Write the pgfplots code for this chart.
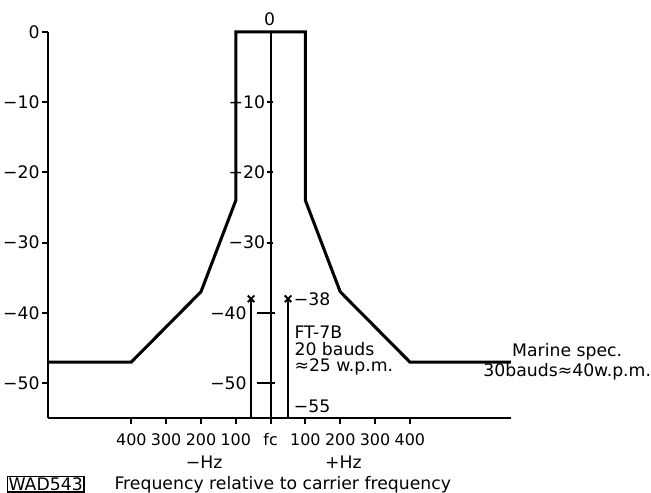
\documentclass[border=0pt]{standalone}
\usepackage{pgfplots}
\pgfplotsset{compat=1.18}
\usepackage{fontspec}
\setmainfont{DejaVu Sans}
\begin{document}
\fontsize{13}{15}\selectfont
\begin{tikzpicture}
\begin{axis}[
  scale only axis,
  width=348.75pt, height=291pt,
  xmin=-640, xmax=690, ymin=-55, ymax=0,
  axis x line=bottom, axis y line=left,
  axis line style={-, line width=1.5pt},
  clip=false,
  tick align=outside,
  major tick length=4.5pt,
  tick style={line width=1.4pt, black},
  xtick={-400,-300,-200,-100,0,100,200,300,400},
  xticklabels={400,300,200,100,fc,100,200,300,400},
  ytick={0,-10,-20,-30,-40,-50},
  yticklabels={0,−10,−20,−30,−40,−50},
  xticklabel style={inner sep=1pt, yshift=-6pt, font=\fontsize{12}{14}\selectfont},
  yticklabel style={inner sep=1.5pt},
]
% main spectrum mask
\addplot[black, line width=2.3pt, line join=miter] coordinates {
 (-640,-47) (-400,-47) (-200,-37) (-100,-24) (-100,0)
 (100,0) (100,-24) (200,-37) (400,-47) (690,-47)};
% carrier line
\addplot[black, line width=1.5pt] coordinates {(0,0) (0,-55)};
% FT-7B spikes
\addplot[black, line width=1.5pt] coordinates {(-56,-55) (-56,-38)};
\addplot[black, line width=1.5pt] coordinates {(50,-55) (50,-38)};
\addplot[only marks, mark=x, mark size=3.5pt, black, line width=1.4pt] coordinates {(-56,-38) (50,-38)};
% inner scale on carrier line
\draw[line width=1.4pt] (axis cs:-11,-10) -- (axis cs:6,-10);
\draw[line width=1.4pt] (axis cs:-11,-20) -- (axis cs:6,-20);
\draw[line width=1.4pt] (axis cs:-11,-30) -- (axis cs:6,-30);
\draw[line width=1.4pt] (axis cs:-40,-40) -- (axis cs:14,-40);
\draw[line width=1.4pt] (axis cs:-40,-50) -- (axis cs:14,-50);
\node[anchor=east, inner sep=0.5pt] at (axis cs:-13,-10) {−10};
\node[anchor=east, inner sep=0.5pt] at (axis cs:-13,-20) {−20};
\node[anchor=east, inner sep=0.5pt] at (axis cs:-13,-30) {−30};
\node[anchor=east, inner sep=0.5pt] at (axis cs:-66,-40) {−40};
\node[anchor=east, inner sep=0.5pt] at (axis cs:-66,-50) {−50};
\node[anchor=south, inner sep=0pt] at (axis cs:-3,0.8) {0};
\node[anchor=west, inner sep=0pt] at (axis cs:66,-38) {−38};
\node[anchor=west, align=left, inner sep=0pt, font=\fontsize{13}{12.5}\selectfont] at (axis cs:68,-45.4) {FT-7B\\20 bauds\\≈25 w.p.m.};
\node[anchor=west, inner sep=0pt] at (axis cs:66,-53.3) {−55};
\node[align=center, inner sep=0pt, font=\fontsize{13}{15}\selectfont] at (axis cs:852,-46.9) {Marine spec.\\30bauds≈40w.p.m.};
\node at (axis cs:-191,-61.3) {−Hz};
\node at (axis cs:209,-61.3) {+Hz};
\node[draw, line width=1.1pt, inner sep=1pt] at (axis cs:-646,-64.4) {WAD543};
\node[anchor=west, inner sep=0pt] at (axis cs:-449,-64.4) {Frequency relative to carrier frequency};
% overall frame of the picture
\path (rel axis cs:-0.1032,1.0825) rectangle (rel axis cs:1.2968,-0.1933);
\end{axis}
\end{tikzpicture}
\end{document}
